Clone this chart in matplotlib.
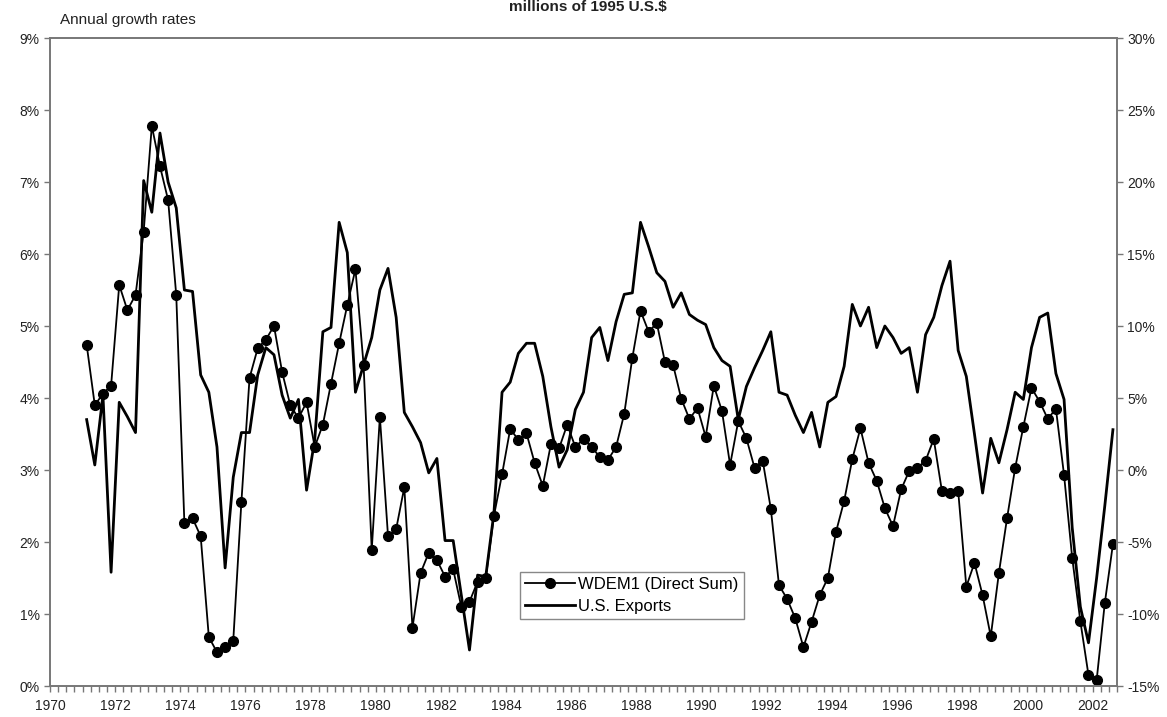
import numpy as np
import matplotlib
matplotlib.use("Agg")
import matplotlib.pyplot as plt
from matplotlib.ticker import FuncFormatter, MultipleLocator

plt.rcParams['font.family'] = ['Liberation Sans', 'DejaVu Sans']

# quarterly series, 1971Q1 .. 2002Q3
first_year = 1971
wdem1 = [4.74, 3.90, 4.06, 4.17, 5.57, 5.22, 5.43, 6.31, 7.78, 7.22,
         6.75, 5.43, 2.26, 2.33, 2.08, 0.68, 0.47, 0.54, 0.63, 2.56,
         4.28, 4.69, 4.81, 5.00, 4.36, 3.90, 3.72, 3.94, 3.32, 3.63,
         4.20, 4.76, 5.29, 5.79, 4.46, 1.89, 3.74, 2.08, 2.18, 2.76,
         0.81, 1.57, 1.85, 1.75, 1.52, 1.62, 1.10, 1.17, 1.45, 1.50,
         2.36, 2.94, 3.57, 3.42, 3.51, 3.10, 2.78, 3.36, 3.30, 3.63,
         3.32, 3.43, 3.32, 3.18, 3.14, 3.32, 3.78, 4.56, 5.21, 4.92,
         5.04, 4.50, 4.46, 3.99, 3.71, 3.86, 3.46, 4.17, 3.82, 3.07,
         3.68, 3.44, 3.03, 3.13, 2.46, 1.40, 1.21, 0.94, 0.54, 0.89,
         1.26, 1.50, 2.14, 2.57, 3.15, 3.58, 3.10, 2.85, 2.47, 2.22,
         2.73, 2.99, 3.03, 3.13, 3.43, 2.71, 2.68, 2.71, 1.38, 1.71,
         1.26, 0.69, 1.57, 2.33, 3.03, 3.60, 4.14, 3.95, 3.71, 3.85,
         2.93, 1.78, 0.90, 0.15, 0.08, 1.15, 1.97]
us_exports = [3.5, 0.35, 5.2, -7.1, 4.7, 3.7, 2.6, 20.1, 17.9, 23.4,
              20.0, 18.2, 12.5, 12.4, 6.6, 5.4, 1.6, -6.8, -0.5, 2.6,
              2.6, 6.6, 8.5, 8.0, 5.2, 3.6, 4.9, -1.4, 2.1, 9.6,
              9.9, 17.2, 15.1, 5.4, 7.3, 9.2, 12.5, 14.0, 10.6, 4.0,
              3.0, 1.9, -0.2, 0.8, -4.9, -4.9, -8.7, -12.5, -7.3, -7.4,
              -3.0, 5.4, 6.1, 8.1, 8.8, 8.8, 6.5, 3.0, 0.2, 1.4,
              4.2, 5.4, 9.2, 9.9, 7.6, 10.3, 12.2, 12.3, 17.2, 15.5,
              13.7, 13.1, 11.3, 12.3, 10.8, 10.4, 10.1, 8.5, 7.6, 7.2,
              3.5, 5.8, 7.1, 8.3, 9.6, 5.4, 5.2, 3.8, 2.6, 4.0,
              1.6, 4.7, 5.1, 7.2, 11.5, 10.0, 11.3, 8.5, 10.0, 9.2,
              8.1, 8.5, 5.4, 9.4, 10.6, 12.8, 14.5, 8.3, 6.5, 2.5,
              -1.6, 2.2, 0.5, 2.8, 5.4, 4.9, 8.5, 10.6, 10.9, 6.7,
              4.9, -4.0, -9.5, -12.0, -7.5, -2.5, 2.8]
year_labels = list(range(1970, 2003, 2))

t = first_year + (np.arange(len(wdem1)) + 0.5) / 4

fig = plt.figure(figsize=(11.67, 7.17), dpi=100)
ax = fig.add_axes([50/1167, 1-686/717, 1067/1167, 648/717])
ax2 = ax.twinx()

l1, = ax.plot(t, wdem1, color='black', lw=1.3, marker='o', ms=7,
              label='WDEM1 (Direct Sum)')
l2, = ax2.plot(t, us_exports, color='black', lw=2.0, label='U.S. Exports')

ax.set_xlim(1970, 2002.75)
ax.set_ylim(0, 9)
ax2.set_ylim(-15, 30)
ax.set_xticks(year_labels)
ax.xaxis.set_minor_locator(MultipleLocator(0.25))
ax.yaxis.set_major_locator(MultipleLocator(1))
ax2.yaxis.set_major_locator(MultipleLocator(5))
ax.yaxis.set_major_formatter(FuncFormatter(lambda v, p: f'{v:.0f}%'))
ax2.yaxis.set_major_formatter(FuncFormatter(lambda v, p: f'{v:.0f}%'))

for a in (ax, ax2):
    for s in a.spines.values():
        s.set_color('#777777')
        s.set_linewidth(1.2)
    a.tick_params(which='both', direction='out', colors='#777777',
                  labelcolor='#222222', labelsize=10, length=4, width=1)
ax.tick_params(axis='x', which='major', pad=5)

fig.text(60/1167, 1-20/717, 'Annual growth rates', fontsize=11,
         va='center', ha='left', color='#222222')
fig.text(0.504, 1.0, 'millions of 1995 U.S.$', fontsize=11,
         fontweight='bold', ha='center', va='top', color='#222222')

leg = ax2.legend(handles=[l1, l2], loc='upper left',
                 bbox_to_anchor=((520-50)/1067, (686-572)/648),
                 borderaxespad=0, fancybox=False, framealpha=1,
                 edgecolor='#888888', fontsize=12, handlelength=3.0,
                 handletextpad=0.2, borderpad=0.3, labelspacing=0.4)
leg.get_frame().set_linewidth(1)

fig.savefig('out.png', dpi=100)
